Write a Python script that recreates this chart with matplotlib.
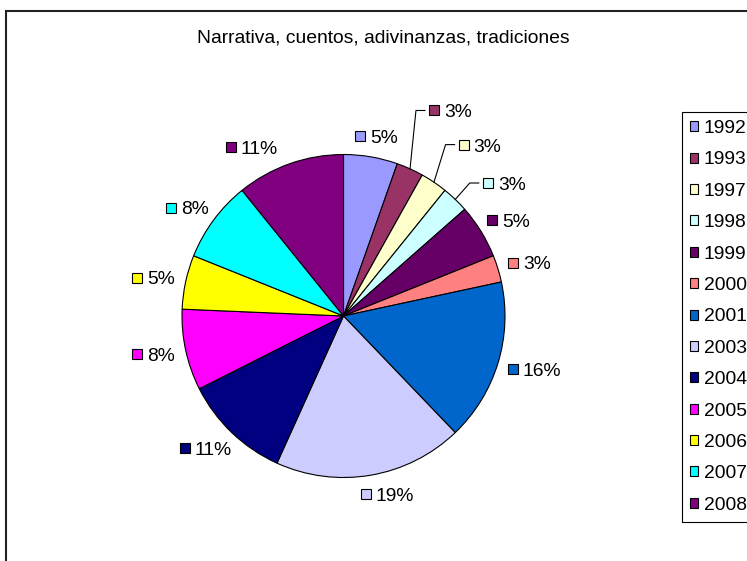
import matplotlib
matplotlib.use("Agg")
import matplotlib.pyplot as plt
import numpy as np
from matplotlib.patches import Patch, Rectangle

plt.rcParams['font.family'] = ['Liberation Sans', 'DejaVu Sans']

title = "Narrativa, cuentos, adivinanzas, tradiciones"
years = ["1992", "1993", "1997", "1998", "1999", "2000", "2001",
         "2003", "2004", "2005", "2006", "2007", "2008"]
counts = [2, 1, 1, 1, 2, 1, 6, 7, 4, 3, 2, 3, 4]
colors = ["#9999FF", "#993366", "#FFFFCC", "#CCFFFF", "#660066", "#FF8080",
          "#0066CC", "#CCCCFF", "#000080", "#FF00FF", "#FFFF00", "#00FFFF",
          "#800080"]
# label placement styling (distance factor, angular nudge in degrees clockwise, leader line)
label_dist = [1.07, 1.36, 1.27, 1.19, 1.07, 1.07, 1.07, 1.07, 1.07, 1.07, 1.07, 1.07, 1.11]
label_nudge = [0, 2, 3, 5, 0, 0, 0, -3, 0, 0, 0, 0, -7]
leader = [False, True, True, True, False, False, False, False, False, False, False, False, False]

W, H = 747, 561
fig = plt.figure(figsize=(W / 100, H / 100), dpi=100)
ax = fig.add_axes([0, 0, 1, 1])

cx, cy, r = 343.5, H - 316, 161.5
wedges, _ = ax.pie(counts, colors=colors, startangle=90, counterclock=False,
                   center=(cx, cy), radius=r,
                   wedgeprops=dict(edgecolor='black', linewidth=0.8))
ax.set_xlim(0, W)
ax.set_ylim(0, H)
ax.set_aspect('equal')
ax.axis('off')

fs = 13.9
fs_px = fs * 100 / 72
total = sum(counts)
renderer = fig.canvas.get_renderer()

for w, c, col, d, nud, ld in zip(wedges, counts, colors, label_dist, label_nudge, leader):
    mid_w = np.deg2rad((w.theta1 + w.theta2) / 2)
    mid = np.deg2rad((w.theta1 + w.theta2) / 2 - nud)
    ux, uy = np.cos(mid), np.sin(mid)
    txt = f"{round(100 * c / total)}%"
    t = ax.text(0, 0, txt, fontsize=fs, ha='left', va='baseline', color='black')
    tw = t.get_window_extent(renderer).width
    gw = 15 + tw
    gh = fs_px
    ax_ = cx + d * r * ux
    ay_ = cy + d * r * uy
    gx = ax_ + gw / 2 * ux
    gy = ay_ + gh / 2 * uy
    left = gx - gw / 2
    ax.add_patch(Rectangle((left, gy - 5), 10, 10, facecolor=col,
                           edgecolor='black', linewidth=0.8, zorder=3))
    t.set_position((left + 15, gy - 0.358 * fs_px))
    if ld:
        ex, ey = cx + r * np.cos(mid_w), cy + r * np.sin(mid_w)
        ax.plot([ex, left - 13, left - 4], [ey, gy, gy], color='black', lw=0.8)

fig.text(383 / W, 1 - 38 / H, title, fontsize=fs, ha='center', va='center')

handles = [Patch(facecolor=col, edgecolor='black', linewidth=0.8) for col in colors]
leg = fig.legend(handles, years, loc='upper left',
                 bbox_to_anchor=(682 / W, 1 - 112 / H), borderaxespad=0,
                 fontsize=fs, frameon=True, fancybox=False, framealpha=1,
                 edgecolor='black', handlelength=0.42, handleheight=0.42,
                 handletextpad=0.28, borderpad=0.42, labelspacing=0.745)
leg.get_frame().set_linewidth(0.8)

fig.add_artist(Rectangle((5.5 / W, -0.1), 1.2, (H - 11) / H + 0.1,
                         transform=fig.transFigure, fill=False,
                         edgecolor='#222222', linewidth=1.5))

fig.savefig("out.png", dpi=100)
